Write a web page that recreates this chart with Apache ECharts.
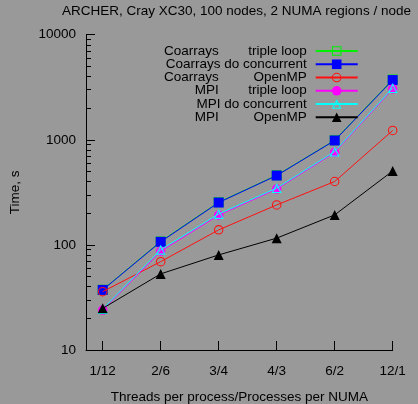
<!DOCTYPE html>
<html>
<head>
<meta charset="utf-8">
<script src="https://cdn.jsdelivr.net/npm/echarts@6/dist/echarts.min.js"></script>
<style>
  html, body { margin: 0; padding: 0; background: #999999; }
  #chart { width: 418px; height: 404px; }
</style>
</head>
<body>
<div id="chart"></div>
<script>
// Thread/process splits per NUMA region
const categories = ['1/12', '2/6', '3/4', '4/3', '6/2', '12/1'];

// Run times in seconds
const coarraysTriple     = [37.5, 108, 255, 460, 990, 3750];
const coarraysConcurrent = [37.3, 107, 253, 457, 985, 3700];
const coarraysOpenMP     = [35.9, 69.3, 139, 240, 401, 1227];
const mpiTriple          = [24, 87, 192, 340, 760, 3050];
const mpiConcurrent      = [24.5, 90, 197, 347, 774, 3110];
const mpiOpenMP          = [24.9, 53, 80.3, 116, 193, 505];

// Legend labels: [method, variant]
const seriesNames = [
  ['Coarrays', 'triple loop'],
  ['Coarrays do concurrent', ''],
  ['Coarrays', 'OpenMP'],
  ['MPI', 'triple loop'],
  ['MPI do concurrent', ''],
  ['MPI', 'OpenMP']
];

// y-axis tick values
const majorTicks = [10, 100, 1000, 10000];
const minorTicks = [20, 30, 40, 50, 60, 70, 80, 90,
                    200, 300, 400, 500, 600, 700, 800, 900,
                    2000, 3000, 4000, 5000, 6000, 7000, 8000, 9000];

// Hollow markers as ring-shaped paths so the background shows through
const ringCircle = 'path://M50,0 A50,50 0 1,1 50,100 A50,50 0 1,1 50,0 Z M50,11 A39,39 0 1,0 50,89 A39,39 0 1,0 50,11 Z';
const ringSquare = 'path://M0,0 L100,0 L100,100 L0,100 Z M11,11 L11,89 L89,89 L89,11 Z';
const ringTriangle = 'path://M50,0 L100,100 L0,100 Z M50,26 L17,89 L83,89 Z';

const toPoints = vals => vals.map((v, i) => [i, v]);
const label = n => n[1] ? n[0] + '\u0001' + n[1] : n[0];

const styles = [
  { data: coarraysTriple,     color: '#00ee00', symbol: ringSquare,   size: 10 },
  { data: coarraysConcurrent, color: '#0000ff', symbol: 'rect',       size: 10 },
  { data: coarraysOpenMP,     color: '#ff1010', symbol: ringCircle,   size: 9.5 },
  { data: mpiTriple,          color: '#ff00ff', symbol: 'circle',     size: 9.5 },
  { data: mpiConcurrent,      color: '#00ffff', symbol: ringTriangle, size: 10 },
  { data: mpiOpenMP,          color: '#000000', symbol: 'triangle',   size: 10 }
];

const series = styles.map((s, i) => ({
  name: label(seriesNames[i]),
  type: 'line',
  data: toPoints(s.data),
  symbol: s.symbol,
  symbolSize: s.size,
  color: s.color,
  itemStyle: { color: s.color },
  lineStyle: { color: s.color, width: 1 },
  emphasis: { disabled: true },
  animation: false,
  z: 2 + i
}));

const font = 'Liberation Sans, Arial, Helvetica, sans-serif';
const fs = 13.5;
const txt = { fontFamily: font, fontSize: fs, color: '#000', lineHeight: 12 };

const chart = echarts.init(document.getElementById('chart'), null, { renderer: 'canvas' });
chart.setOption({
  backgroundColor: '#999999',
  animation: false,
  title: {
    text: 'ARCHER, Cray XC30, 100 nodes, 2 NUMA regions / node',
    left: 62, top: 4, padding: 0,
    textStyle: { fontFamily: font, fontSize: fs, fontWeight: 'normal', color: '#000' }
  },
  legend: {
    orient: 'vertical',
    left: 158.7, top: 44, padding: 0,
    align: 'right',
    itemWidth: 42, itemHeight: 12, itemGap: -0.74,
    selectedMode: false,
    formatter: name => {
      const parts = name.split('\u0001');
      if (parts.length === 2) return '{a|' + parts[0] + '}{b|' + parts[1] + '}{g| }';
      return '{c|' + parts[0] + '}{g| }';
    },
    textStyle: Object.assign({}, txt, {
      rich: {
        a: Object.assign({}, txt, { width: 60, align: 'right' }),
        b: Object.assign({}, txt, { width: 88, align: 'right' }),
        c: Object.assign({}, txt, { width: 148, align: 'right' }),
        g: Object.assign({}, txt, { width: 4 })
      }
    })
  },
  grid: { left: 86, right: 25.3, top: 34.7, bottom: 54, containLabel: false, outerBoundsMode: 'none' },
  xAxis: {
    type: 'value',
    min: -0.288, max: 5,
    name: 'Threads per process/Processes per NUMA',
    nameLocation: 'middle', nameGap: 40,
    nameTextStyle: { fontFamily: font, fontSize: fs, color: '#000' },
    axisLine: { show: true, onZero: false, lineStyle: { color: '#000', width: 1 } },
    axisTick: { show: true, inside: true, length: 9, lineStyle: { color: '#000' },
                customValues: [0, 1, 2, 3, 4, 5] },
    axisLabel: { fontFamily: font, fontSize: fs, color: '#000', margin: 14,
                 customValues: [0, 1, 2, 3, 4, 5],
                 formatter: v => categories[Math.round(v)] },
    splitLine: { show: false }
  },
  yAxis: [{
    type: 'log', logBase: 10, min: 10, max: 10000,
    position: 'left',
    name: 'Time, s',
    nameLocation: 'middle', nameGap: 64,
    nameTextStyle: { fontFamily: font, fontSize: fs, color: '#000' },
    axisLine: { show: true, onZero: false, lineStyle: { color: '#000', width: 1 } },
    axisTick: { show: true, inside: true, length: 9, lineStyle: { color: '#000' },
                customValues: majorTicks },
    axisLabel: { fontFamily: font, fontSize: fs, color: '#000', margin: 10,
                 customValues: majorTicks,
                 formatter: v => String(Math.round(v)) },
    splitLine: { show: false }
  }, {
    type: 'log', logBase: 10, min: 10, max: 10000,
    position: 'left', offset: 0,
    axisLine: { show: false, onZero: false },
    axisTick: { show: true, inside: true, length: 5, lineStyle: { color: '#000' },
                customValues: minorTicks },
    axisLabel: { show: false },
    splitLine: { show: false }
  }],
  series: series
});
</script>
</body>
</html>
